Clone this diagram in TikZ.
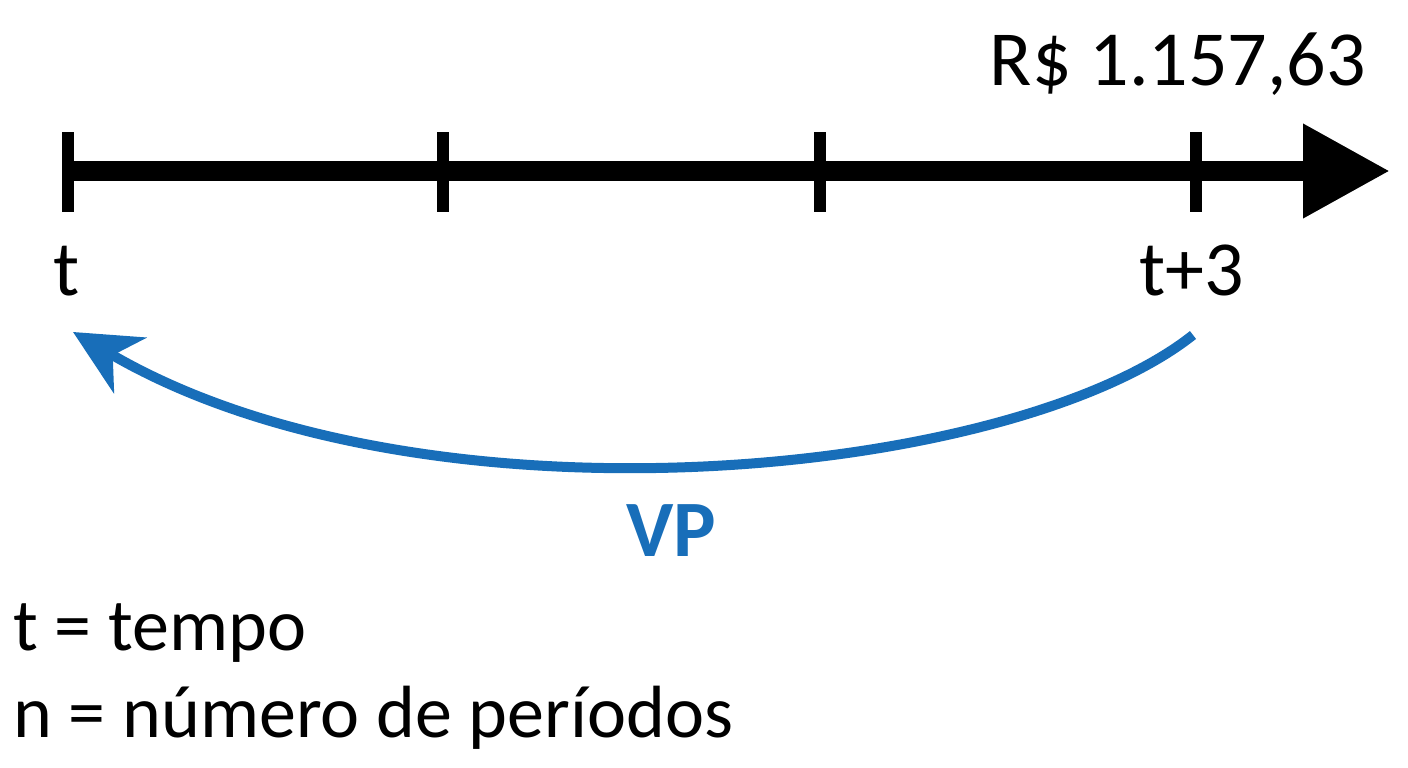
\documentclass[tikz,border=0pt]{standalone}
\usepackage{fontspec}
\setmainfont{Carlito}
\usetikzlibrary{arrows.meta}
\definecolor{vpblue}{RGB}{24,110,185}
\begin{document}
\begin{tikzpicture}[x=1pt,y=-1pt,
  lbl/.style={inner sep=0pt,font=\fontsize{74}{90}\selectfont},
  big/.style={inner sep=0pt,font=\fontsize{78}{94}\selectfont},
  ticko/.style={line width=12pt},
  axisline/.style={line width=20pt,-{Triangle[length=87pt,width=89pt]}},
  vparrow/.style={vpblue,line width=10pt,-{Stealth[length=66pt,width=64pt,inset=20pt]}}]
\useasboundingbox (0,0) rectangle (1408,768);
\coordinate (a0) at (62,171);
\coordinate (a1) at (1390,171);
\draw[axisline] (a0) -- (a1);
\foreach \x/\n in {68/t0,443/t1,820/t2,1196/t3}{
  \coordinate (\n top) at (\x,132);
  \coordinate (\n bot) at (\x,212);
  \draw[ticko] (\n top) -- (\n bot);
}
\node[big,anchor=base east] (val) at (1366,85) {R\$ 1.157,63};
\node[big,anchor=base west] (tl) at (53,295) {t};
\node[big,anchor=base west] (t3l) at (1139,295) {t+3};
\coordinate (vs) at (1193,335);
\coordinate (ve) at (73,332);
\draw[vparrow] (vs) .. controls (1010,480) and (420,535) .. (ve);
\node[inner sep=0pt,anchor=base,font=\fontsize{80}{96}\selectfont\bfseries,text=vpblue] (vp) at (671,556) {VP};
\node[lbl,anchor=base west] (l1) at (13,650) {t = tempo};
\node[lbl,anchor=base west] (l2) at (13,737) {n = número de períodos};
\end{tikzpicture}
\end{document}
